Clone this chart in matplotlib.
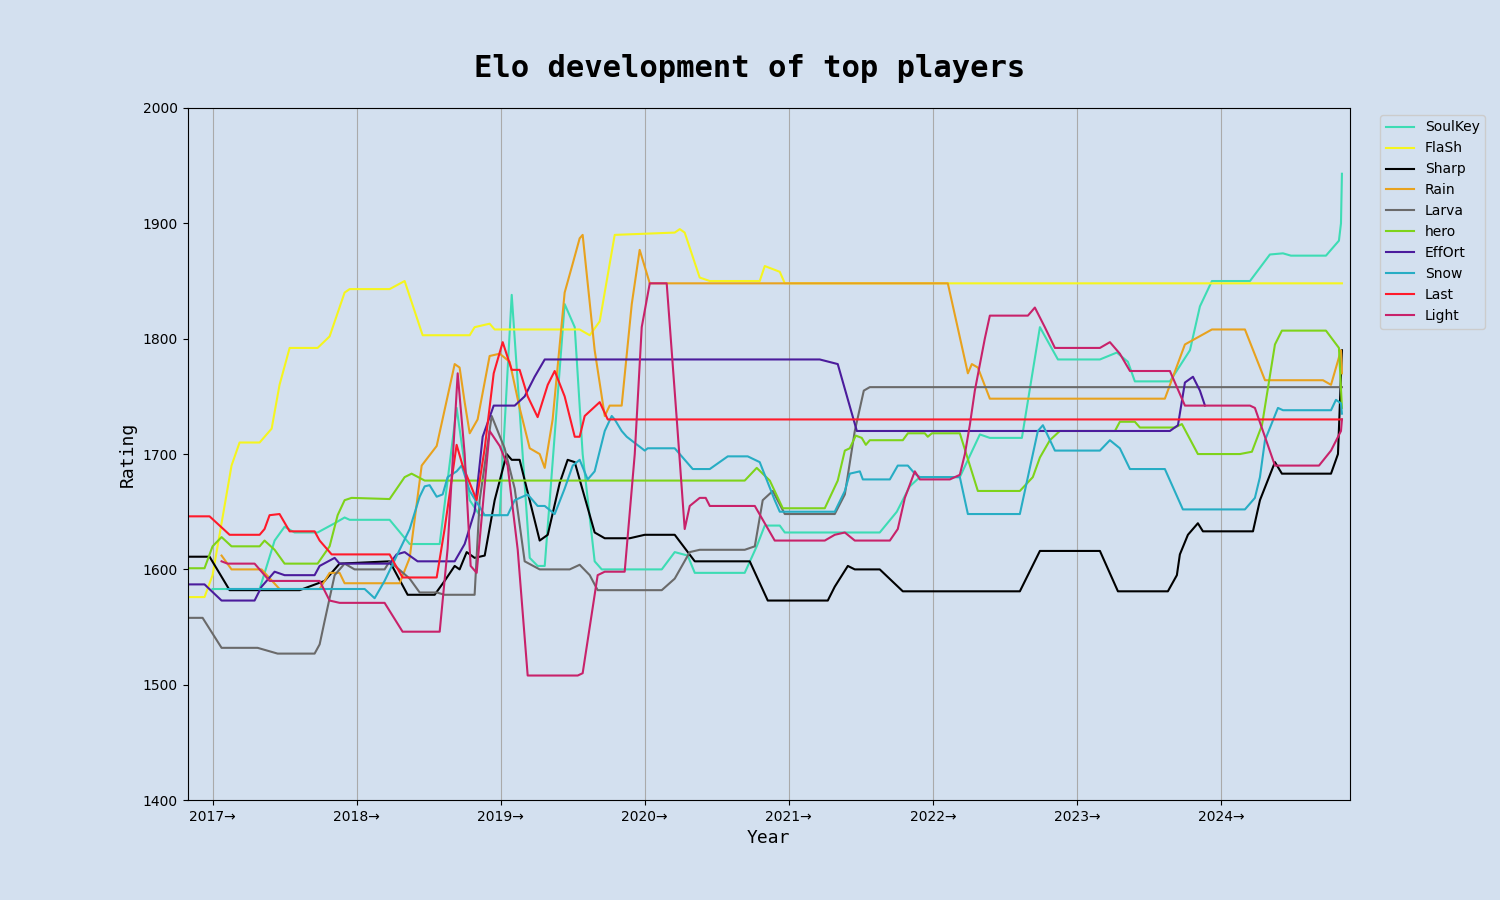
import matplotlib
matplotlib.use("Agg")
import matplotlib.pyplot as plt

# x values: months since January 2017
soulkey_m = [0,3.92,5.17,6,6.83,8.75,10.17,11,11.42,14.75,16.42,18.92,20.33,21.42,22.25,23.92,24.92,26.42,27.08,27.67,29.33,30.17,30.83,31.83,32.42,37.42,38.5,39.58,40.17,44.33,45.33,46,47.25,47.67,55.58,57,58.08,58.92,62.25,63.92,64.75,67.42,68.92,70.42,73.92,75.33,76.25,76.83,79.75,81.42,82.25,83.25,86.42,88.08,89.17,89.83,92.75,93.83,94,94.08]
soulkey_v = [1583,1583,1625,1637,1632,1632,1640,1645,1643,1643,1622,1622,1740,1660,1647,1647,1838,1610,1603,1603,1830,1810,1700,1607,1600,1600,1615,1612,1597,1597,1620,1638,1638,1632,1632,1650,1672,1680,1680,1717,1714,1714,1810,1782,1782,1788,1780,1763,1763,1790,1828,1850,1850,1873,1874,1872,1872,1885,1900,1943]

flash_m = [-2.08,-0.67,0,1.58,2.25,3.92,4.92,5.58,6.42,8.75,9.75,11,11.42,14.75,16,17.5,21.42,21.83,23.08,23.5,30.58,31.42,32.25,33.5,38.5,38.92,39.33,40.58,41.42,45.58,46,47.25,47.67,94.08]
flash_v = [1576,1576,1595,1690,1710,1710,1722,1760,1792,1792,1802,1840,1843,1843,1850,1803,1803,1810,1813,1808,1808,1803,1815,1890,1892,1895,1892,1853,1850,1850,1863,1858,1848,1848]

sharp_m = [-2.08,-0.25,1.42,7.25,9.33,10.58,14.75,16.25,18.5,19.33,20.17,20.58,21.17,21.83,22.67,23.5,24.5,24.92,25.58,27.25,27.92,28.92,29.58,30.17,31.83,32.67,34.75,36,38.5,40.17,44.75,46.25,51.25,51.83,52.92,53.5,55.58,57.5,67.25,68.92,73.92,75.42,79.58,80.33,80.58,81.25,82.08,82.5,86.67,87.25,88.5,89.08,93.17,93.75,94.08]
sharp_v = [1611,1611,1582,1582,1590,1605,1607,1578,1578,1590,1603,1600,1615,1610,1612,1660,1700,1695,1695,1625,1630,1675,1695,1693,1632,1627,1627,1630,1630,1607,1607,1573,1573,1585,1603,1600,1600,1581,1581,1616,1616,1581,1581,1595,1613,1630,1640,1633,1633,1660,1693,1683,1683,1700,1790]

rain_m = [0.75,1.58,4.08,5.58,8.92,9.75,10.58,11,15.58,16.42,17.42,18.67,20.17,20.58,21,21.42,22.08,23.08,23.92,24.75,25.58,26.42,27.25,27.67,28.33,29.33,30,30.58,30.83,31.83,32.67,33.08,34.08,34.92,35.58,36.42,61.25,62.92,63.25,63.75,64.75,79.33,81,83.25,86,87.67,92.5,93.17,93.67,94,94.08]
rain_v = [1612,1600,1600,1583,1583,1597,1597,1588,1588,1610,1690,1707,1778,1775,1745,1718,1730,1785,1787,1780,1740,1705,1700,1688,1730,1840,1865,1887,1890,1790,1733,1742,1742,1830,1877,1848,1848,1770,1778,1775,1748,1748,1795,1808,1808,1764,1764,1760,1778,1790,1770]

larva_m = [-2.08,-0.83,0.75,3.75,5.42,8.5,8.92,9.33,10.17,11,11.83,14.33,14.75,16.42,17.25,18.67,19.33,21.83,22.25,23.25,24.33,25.17,26,27.25,29.75,30.58,31.42,32.08,37.42,38.5,39.75,40.58,44.33,45.17,45.83,46.67,47.67,51.83,52.67,53.5,54.25,54.75,94.08]
larva_v = [1558,1558,1532,1532,1527,1527,1535,1555,1595,1605,1600,1600,1607,1592,1580,1580,1578,1578,1660,1733,1705,1670,1607,1600,1600,1604,1595,1582,1582,1592,1615,1617,1617,1620,1660,1668,1648,1648,1665,1720,1755,1758,1758]

hero_m = [-2.08,-0.67,0,0.75,1.58,3.92,4.33,5.17,6,8.75,9.75,10.42,11,11.58,14.75,16,16.58,17.67,18.08,44.33,45.33,46.42,47.5,51,52.08,52.67,53.08,53.58,54.08,54.42,54.75,57.5,57.92,59.33,59.58,59.92,62.25,63.75,67.25,68.33,68.92,69.75,70.58,75.17,75.58,76.83,77.25,80.17,80.75,82.08,85.58,86.58,87.42,88.5,89.08,92.75,93.83,94.08]
hero_v = [1601,1601,1620,1628,1620,1620,1625,1617,1605,1605,1620,1647,1660,1662,1661,1680,1683,1677,1677,1677,1688,1677,1653,1653,1677,1703,1705,1716,1714,1708,1712,1712,1718,1718,1715,1718,1718,1668,1668,1680,1697,1712,1720,1720,1728,1728,1723,1723,1726,1700,1700,1702,1725,1795,1807,1807,1792,1740]

effort_m = [-2.08,-0.67,0.75,3.5,4.08,5.17,6,8.5,8.92,10.17,10.58,11,14.75,15.33,16,17.08,20.17,21,21.83,22.5,23.42,25.17,26,26.83,27.67,50.58,52.08,53.67,79.75,80.42,81,81.67,82.25,82.67]
effort_v = [1587,1587,1573,1573,1585,1598,1595,1595,1603,1610,1605,1605,1605,1613,1615,1607,1607,1622,1650,1715,1742,1742,1750,1767,1782,1782,1778,1720,1720,1725,1762,1767,1755,1742]

snow_m = [1.25,12.67,13.5,14.33,16.42,17.25,17.67,18.08,18.67,19.17,19.58,20.33,20.75,21.42,22.08,22.67,24.58,25.17,26.25,27.08,27.67,28.5,29.33,30,30.58,31.25,31.83,32.67,33.25,33.5,34.08,34.5,36,36.25,38.5,40,41.42,42.92,44.58,45.58,46.83,47.25,51.83,52.67,53.08,53.92,54.17,56.42,57.08,57.92,58.5,58.92,62.25,62.92,67.25,68.75,69.17,70.17,73.92,74.75,75.58,76.42,79.33,80.83,86,86.83,87.25,87.67,88.75,89.17,93.17,93.58,94,94.08]
snow_v = [1583,1583,1575,1590,1635,1663,1672,1673,1663,1665,1680,1685,1690,1668,1657,1647,1647,1660,1665,1655,1655,1648,1670,1690,1695,1678,1685,1720,1733,1730,1720,1715,1703,1705,1705,1687,1687,1698,1698,1693,1660,1650,1650,1668,1683,1685,1678,1678,1690,1690,1683,1680,1680,1648,1648,1720,1725,1703,1703,1712,1705,1687,1687,1652,1652,1662,1680,1712,1740,1738,1738,1747,1744,1735]

last_m = [-2.08,-0.25,1.42,3.92,4.33,4.75,5.58,6.42,8.5,8.92,9.92,14.75,15.17,15.83,18.67,19.33,20.33,20.83,21.42,22,22.67,23.42,24.17,24.92,25.58,26.25,27.08,27.92,28.5,29.33,30.17,30.58,31,32.25,32.92,94.08]
last_v = [1646,1646,1630,1630,1635,1647,1648,1633,1633,1625,1613,1613,1605,1593,1593,1635,1708,1690,1675,1660,1705,1770,1797,1773,1773,1750,1732,1760,1772,1750,1715,1715,1733,1745,1730,1730]

light_m = [0.75,1.25,3.5,4.75,8.92,9.75,10.58,14.33,15.83,18.92,19.58,20.42,21,21.5,22,23.08,23.92,24.58,25.42,26.25,30.42,30.83,32.08,32.67,34.33,35.17,35.75,36.42,37.83,38.67,39.33,39.75,40.58,41.08,41.42,45.17,46.83,51,51.83,52.67,53.5,56.42,57.08,57.67,58.5,58.92,61.42,62.25,62.67,63.08,63.5,64.33,64.75,67.92,68.5,69.33,70.17,73.92,74.75,75.58,76.42,79.75,81,86.42,86.83,88.5,92.17,93.17,94,94.08]
light_v = [1607,1605,1605,1590,1590,1573,1571,1571,1546,1546,1618,1770,1700,1603,1597,1720,1707,1690,1617,1508,1508,1510,1595,1598,1598,1700,1810,1848,1848,1730,1635,1655,1662,1662,1655,1655,1625,1625,1630,1632,1625,1625,1635,1662,1685,1678,1678,1682,1700,1725,1755,1800,1820,1820,1827,1810,1792,1792,1797,1787,1772,1772,1742,1742,1740,1690,1690,1703,1720,1730]

players = ["SoulKey","FlaSh","Sharp","Rain","Larva","hero","EffOrt","Snow","Last","Light"]
series = [(soulkey_m,soulkey_v),(flash_m,flash_v),(sharp_m,sharp_v),(rain_m,rain_v),(larva_m,larva_v),
          (hero_m,hero_v),(effort_m,effort_v),(snow_m,snow_v),(last_m,last_v),(light_m,light_v)]
colors = ["#3ddcb4","#f5f51e","#000000","#e8a21e","#6a6a6a","#7ed31a","#4b1c9c","#27adc4","#ff1a2a","#c8226a"]
years = list(range(2017, 2025))
year_labels = [f"{y}→" for y in years]

bg = "#d3e0ef"
fig = plt.figure(figsize=(15, 9), dpi=100, facecolor=bg)
ax = fig.add_axes([0.125, 0.111, 0.775, 0.769], facecolor=bg)
for name, (m, v), c in zip(players, series, colors):
    ax.plot([2017 + t/12 for t in m], v, color=c, lw=1.5, label=name)

ax.set_xlim(2016.826, 2024.896)
ax.set_ylim(1400, 2000)
ax.set_xticks(years)
ax.set_xticklabels(year_labels, fontsize=10)
ax.set_yticks(range(1400, 2001, 100))
ax.tick_params(labelsize=10)
ax.grid(axis="x", color="#aaaaaa", lw=0.8)
ax.set_axisbelow(True)
ax.set_xlabel("Year", family="DejaVu Sans Mono", fontsize=13)
ax.set_ylabel("Rating", family="DejaVu Sans Mono", fontsize=13)
fig.suptitle("Elo development of top players", family="DejaVu Sans Mono", fontweight="bold", fontsize=22, y=0.94)
leg = ax.legend(loc="upper left", bbox_to_anchor=(1.02, 1.0), fontsize=10, facecolor=bg, framealpha=1)
fig.savefig("out.png", facecolor=bg)
